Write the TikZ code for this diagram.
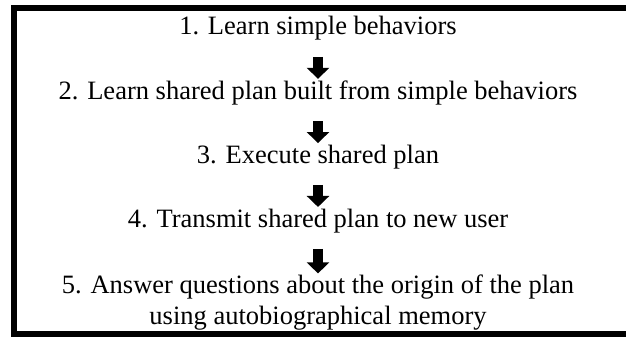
\documentclass[tikz,border=0pt]{standalone}
\usepackage{fontspec}
\setmainfont{Liberation Serif}
\usetikzlibrary{positioning, arrows.meta}

\begin{document}
\begin{tikzpicture}[
    x=1pt, y=1pt,
    node distance=39.5pt,
    stage/.style={inner sep=0pt, align=center, font=\fontsize{26.5}{31}\selectfont},
    blk/.style={line width=10pt, -{Triangle[width=22pt, length=11pt]}, shorten <=16pt, shorten >=1.5pt},
    frame/.style={draw=black, line width=6pt, line join=miter}
]
\useasboundingbox (0,0) rectangle (626,-337);
\draw[frame] (626,-8) -- (14,-8) -- (14,-334) -- (626,-334);
\node[stage, anchor=base] (s1) at (318,-35) {1. Learn simple behaviors};
\node[stage, below=of s1] (s2) {2. Learn shared plan built from simple behaviors};
\node[stage, below=of s2] (s3) {3. Execute shared plan};
\node[stage, below=of s3] (s4) {4. Transmit shared plan to new user};
\node[stage, below=42pt of s4] (s5) {5. Answer questions about the origin of the plan\\using autobiographical memory};
\draw[blk] (s1) -- (s2);
\draw[blk] (s2) -- (s3);
\draw[blk] (s3) -- (s4);
\draw[blk] (s4) -- (s5);
\end{tikzpicture}
\end{document}
